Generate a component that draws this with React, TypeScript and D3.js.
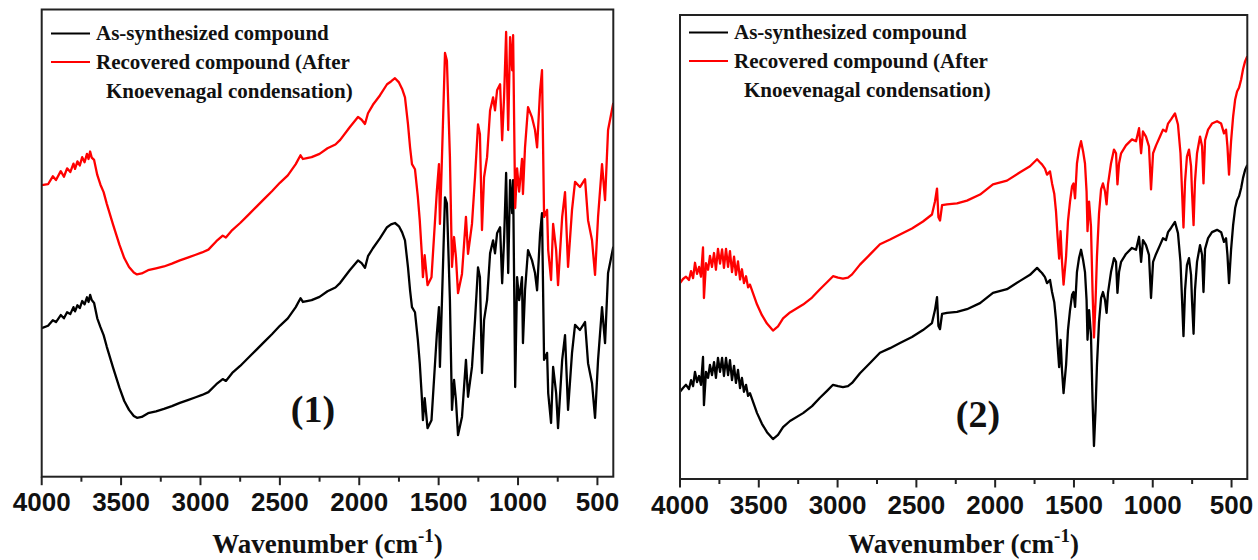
import React from "react";
import * as d3 from "d3";

// FT-IR spectra: wavenumber (cm-1) and transmittance (a.u., stacked)
const wn1 = [4000,3960,3930,3910,3880,3860,3840,3820,3800,3790,3775,3760,3745,3730,3715,3705,3695,3685,3670,3650,3630,3610,3590,3550,3510,3480,3450,3420,3400,3370,3330,3280,3230,3180,3130,3080,3030,2990,2950,2900,2860,2840,2800,2750,2700,2650,2600,2550,2500,2450,2400,2370,2355,2330,2300,2250,2200,2150,2120,2060,2008,1985,1964,1945,1914,1870,1825,1800,1775,1750,1730,1712,1693,1680,1668,1649,1631,1619,1606,1599,1588,1570,1545,1511,1498,1492,1479,1460,1448,1429,1416,1403,1391,1378,1353,1328,1315,1290,1271,1252,1240,1227,1214,1195,1176,1157,1145,1132,1113,1100,1088,1075,1062,1050,1037,1031,1018,1006,993,975,969,956,937,912,893,880,861,849,836,817,810,792,779,760,748,722,704,685,660,641,610,578,559,534,515,496,471,452,433,400];

const asSynthesized1 = [31.8,32.3,33.5,33.1,34.6,33.9,35.2,34.8,36.3,35.4,36.7,36.1,37.6,36.9,38.4,37.4,38.9,37.8,37.2,33.9,32.0,30.3,27.8,23.3,19.0,16.2,14.3,13.0,12.6,12.8,13.6,14.0,14.5,15.1,15.8,16.4,17.0,17.5,18.1,19.8,20.9,20.5,22.2,23.7,25.4,27.1,28.8,30.5,32.3,33.9,36.3,38.2,37.4,37.6,37.8,38.5,39.7,40.5,41.5,44.2,46.3,45.7,44.7,47.2,48.9,51.0,53.4,54.0,54.3,53.6,52.3,50.6,44.8,39.9,36.3,35.2,29.3,24.3,17.1,12.1,16.8,10.4,12.1,30.7,36.3,23.5,37.8,59.8,58.5,37.8,14.3,20.7,16.4,8.9,12.8,25.0,17.1,23.5,33.5,44.8,42.7,22.2,33.5,37.8,47.8,50.6,47.8,52.1,53.4,41.4,50.6,65.0,43.6,63.5,56.4,63.5,19.2,42.7,37.8,42.7,28.6,39.9,48.5,46.3,43.6,39.9,52.1,56.4,25.0,26.5,17.9,11.5,23.5,17.9,10.4,25.0,30.3,14.3,26.5,32.5,31.4,33.1,24.3,20.0,12.6,25.0,36.3,28.6,43.6,49.2];

const recovered1 = [62.4,62.6,64.3,63.5,65.4,64.2,66.0,65.2,67.0,65.9,67.5,66.6,68.4,67.3,69.1,68.0,69.6,68.3,67.8,64.6,62.5,60.9,58.4,53.9,49.6,46.8,44.9,43.7,43.3,43.5,44.2,44.6,45.0,45.6,46.3,46.9,47.5,48.0,48.6,50.4,51.6,51.2,52.8,54.3,56.0,57.7,59.4,61.1,62.9,64.5,66.9,68.8,68.0,68.2,68.4,69.1,70.3,71.1,72.1,74.8,77.0,76.4,75.5,77.8,79.6,81.6,84.0,84.6,85.3,84.4,83.0,81.2,75.4,70.5,66.9,65.8,59.9,54.9,47.7,42.7,47.4,41.0,42.7,61.3,66.9,54.1,68.4,90.7,89.1,68.4,44.9,51.3,47.0,39.3,43.4,55.6,47.7,54.1,64.1,75.4,73.3,52.8,64.1,68.4,78.4,81.2,78.4,82.7,84.0,72.0,81.2,95.2,74.2,94.1,87.0,94.5,57.5,66.0,61.0,68.0,60.5,70.5,79.1,76.9,74.2,70.5,82.7,87.0,55.6,57.1,48.5,42.1,54.1,48.5,41.0,55.6,60.9,44.9,57.1,63.1,62.0,63.7,54.9,50.6,43.2,55.6,66.9,59.2,74.2,80.0];

const wn2 = [4000,3981,3962,3943,3930,3917,3905,3892,3879,3867,3854,3848,3835,3822,3810,3797,3784,3772,3759,3746,3733,3721,3708,3695,3683,3670,3657,3645,3632,3619,3607,3594,3581,3568,3556,3511,3480,3448,3410,3378,3346,3302,3219,3162,3112,3067,3029,2997,2966,2934,2908,2858,2794,2731,2667,2604,2528,2458,2401,2382,2369,2360,2350,2337,2306,2242,2179,2096,2014,1925,1842,1779,1734,1715,1703,1684,1671,1652,1639,1625,1614,1604,1594,1585,1576,1566,1550,1538,1525,1512,1503,1493,1481,1468,1455,1442,1430,1420,1414,1404,1392,1382,1373,1363,1354,1341,1328,1316,1303,1293,1284,1265,1246,1233,1224,1214,1201,1170,1132,1106,1087,1074,1062,1043,1024,1011,998,979,954,935,916,903,884,859,840,824,814,805,795,783,770,757,751,741,732,719,700,687,678,668,649,624,592,566,548,535,526,516,503,490,477,465,452,439,427,414,400];

const asSynthesized2 = [18.8,19.6,20.3,19.4,21.3,20.0,23.1,20.9,22.2,20.3,26.3,15.9,23.1,21.8,24.6,22.4,25.2,21.8,26.1,23.1,26.1,22.2,26.1,22.4,25.6,21.3,24.4,20.7,23.5,19.6,21.8,18.8,20.3,17.9,18.5,14.2,11.9,10.1,8.6,9.5,11.2,12.5,14.2,15.7,17.5,19.0,20.3,20.0,19.8,20.0,20.7,22.8,25.0,27.2,28.2,29.3,30.6,32.1,33.6,36.4,39.2,33.0,32.3,35.6,35.8,36.0,36.6,37.9,40.1,40.9,42.7,44.0,45.5,44.8,44.4,43.5,42.2,42.9,40.3,38.1,34.3,28.9,24.1,30.0,23.5,18.5,24.6,32.1,36.4,39.7,40.3,37.1,44.6,47.6,49.4,47.2,44.6,38.6,30.0,36.4,31.0,17.0,7.1,14.9,24.6,33.8,39.0,40.3,38.6,35.8,40.1,44.6,47.6,46.8,40.1,44.6,46.8,48.5,49.8,49.4,52.2,46.8,51.5,50.4,48.3,39.0,46.8,48.5,50.4,51.9,51.5,53.2,54.1,55.4,53.0,46.8,38.6,30.8,40.7,46.1,47.6,44.0,38.6,31.3,40.7,46.8,50.4,48.3,40.3,49.6,51.9,53.2,53.7,53.2,51.1,51.9,48.3,42.2,49.4,54.7,58.4,60.1,61.0,62.7,64.9,66.6,67.7];

const recovered2 = [42.2,43.1,43.6,42.9,44.8,43.3,46.6,44.2,45.7,43.6,49.9,39.0,46.5,45.1,48.1,45.7,48.7,45.1,49.6,46.4,49.5,45.5,49.6,45.7,49.1,44.6,47.9,44.0,46.9,43.0,45.2,42.2,43.7,41.3,41.9,37.6,35.3,33.5,32.0,32.9,34.6,35.9,37.6,39.1,40.9,42.4,43.7,43.4,43.2,43.4,44.1,46.2,48.4,50.6,51.6,52.7,54.0,55.5,57.0,59.8,62.6,56.4,55.7,59.0,59.2,59.4,60.0,61.3,63.5,64.3,66.1,67.4,68.9,68.2,67.8,66.9,65.6,66.3,63.7,61.5,57.7,52.3,47.5,53.4,46.9,41.9,48.0,55.5,59.8,63.1,63.7,60.5,68.0,71.0,72.8,70.6,68.0,62.0,53.4,59.8,54.4,40.4,30.5,38.3,48.0,57.2,62.4,63.7,62.0,59.2,63.5,68.0,71.0,70.2,63.5,68.0,70.2,71.9,73.2,72.8,75.6,70.2,74.9,73.8,71.7,62.4,70.2,71.9,73.8,75.3,74.9,76.6,77.5,78.8,76.4,70.2,62.0,54.2,64.1,69.5,71.0,67.4,62.0,54.7,64.1,70.2,73.8,71.7,63.7,73.0,75.3,76.6,77.1,76.6,74.5,75.3,71.7,65.6,72.8,78.1,81.8,83.5,84.4,86.1,88.3,90.0,91.1];

const majorTicks = [4000, 3500, 3000, 2500, 2000, 1500, 1000, 500];
const minorTicks = [3750, 3250, 2750, 2250, 1750, 1250, 750];
const legendLabels = ["As-synthesized compound", "Recovered compound (After", "Knoevenagal condensation)"];
const seriesColors = ["#000000", "#ff0000"];
const panelTags = ["(1)", "(2)"];

type Panel = {
  id: string;
  left: number; right: number; top: number; bottom: number;
  wn: number[];
  series: number[][];
  tag: string;
  tagX: number; tagY: number;
  legendX: number; legendY: number;
  labelY: number;
};

const panels: Panel[] = [
  {
    id: "p1", left: 41.7, right: 613.3, top: 9.5, bottom: 476.7,
    wn: wn1, series: [asSynthesized1, recovered1], tag: panelTags[0],
    tagX: 313, tagY: 422, legendX: 51, legendY: 33.5, labelY: 511,
  },
  {
    id: "p2", left: 680, right: 1247.3, top: 15, bottom: 479,
    wn: wn2, series: [asSynthesized2, recovered2], tag: panelTags[1],
    tagX: 978, tagY: 427, legendX: 689, legendY: 32.5, labelY: 514,
  },
];

const SERIF = "'Liberation Serif', 'Times New Roman', Times, serif";
const SANS = "'Liberation Sans', Arial, Helvetica, sans-serif";

function SpectrumPanel({ p }: { p: Panel }) {
  const x = d3.scaleLinear().domain([4000, 400]).range([p.left, p.right]);
  const y = d3.scaleLinear().domain([0, 100]).range([p.bottom, p.top]);
  const line = d3
    .line<[number, number]>()
    .x((d) => x(d[0]))
    .y((d) => y(d[1]));
  const cx = (p.left + p.right) / 2;

  return (
    <g>
      <defs>
        <clipPath id={`clip-${p.id}`}>
          <rect x={p.left} y={p.top} width={p.right - p.left} height={p.bottom - p.top} />
        </clipPath>
      </defs>
      <g clipPath={`url(#clip-${p.id})`}>
        {p.series.map((vals, i) => (
          <path
            key={i}
            d={line(p.wn.map((w, k) => [w, vals[k]] as [number, number])) || ""}
            fill="none"
            stroke={seriesColors[i]}
            strokeWidth={2.3}
            strokeLinejoin="round"
          />
        ))}
      </g>
      <rect
        x={p.left}
        y={p.top}
        width={p.right - p.left}
        height={p.bottom - p.top}
        fill="none"
        stroke="#222"
        strokeWidth={2}
      />
      {majorTicks.map((t) => (
        <g key={t}>
          <line x1={x(t)} x2={x(t)} y1={p.bottom} y2={p.bottom + 8.5} stroke="#222" strokeWidth={2} />
          <text
            x={x(t)}
            y={p.labelY}
            textAnchor="middle"
            fontFamily={SANS}
            fontWeight="bold"
            fontSize={26}
            fill="#111"
          >
            {t}
          </text>
        </g>
      ))}
      {minorTicks.map((t) => (
        <line key={t} x1={x(t)} x2={x(t)} y1={p.bottom} y2={p.bottom + 5} stroke="#222" strokeWidth={2} />
      ))}
      <text
        x={cx}
        y={553}
        textAnchor="middle"
        fontFamily={SERIF}
        fontWeight="bold"
        fontSize={27}
        fill="#111"
      >
        Wavenumber (cm
        <tspan fontSize={19} dy={-11}>-1</tspan>
        <tspan dy={11}>)</tspan>
      </text>
      <text
        x={p.tagX}
        y={p.tagY}
        textAnchor="middle"
        fontFamily={SERIF}
        fontWeight="bold"
        fontSize={38}
        fill="#111"
      >
        {p.tag}
      </text>
      <g fontFamily={SERIF} fontWeight="bold" fontSize={21} fill="#111">
        <line x1={p.legendX} x2={p.legendX + 39} y1={p.legendY} y2={p.legendY} stroke={seriesColors[0]} strokeWidth={2} />
        <text x={p.legendX + 45} y={p.legendY + 6}>{legendLabels[0]}</text>
        <line x1={p.legendX} x2={p.legendX + 39} y1={p.legendY + 28.5} y2={p.legendY + 28.5} stroke={seriesColors[1]} strokeWidth={2} />
        <text x={p.legendX + 45} y={p.legendY + 35}>{legendLabels[1]}</text>
        <text x={p.legendX + 55} y={p.legendY + 64.5}>{legendLabels[2]}</text>
      </g>
    </g>
  );
}

export default function App() {
  return (
    <svg
      width={1258}
      height={560}
      viewBox="0 0 1258 560"
      style={{ position: "absolute", left: 0, top: 0, background: "#fff", display: "block" }}
    >
      <rect x={0} y={0} width={1258} height={560} fill="#fff" />
      {panels.map((p) => (
        <SpectrumPanel key={p.id} p={p} />
      ))}
    </svg>
  );
}
